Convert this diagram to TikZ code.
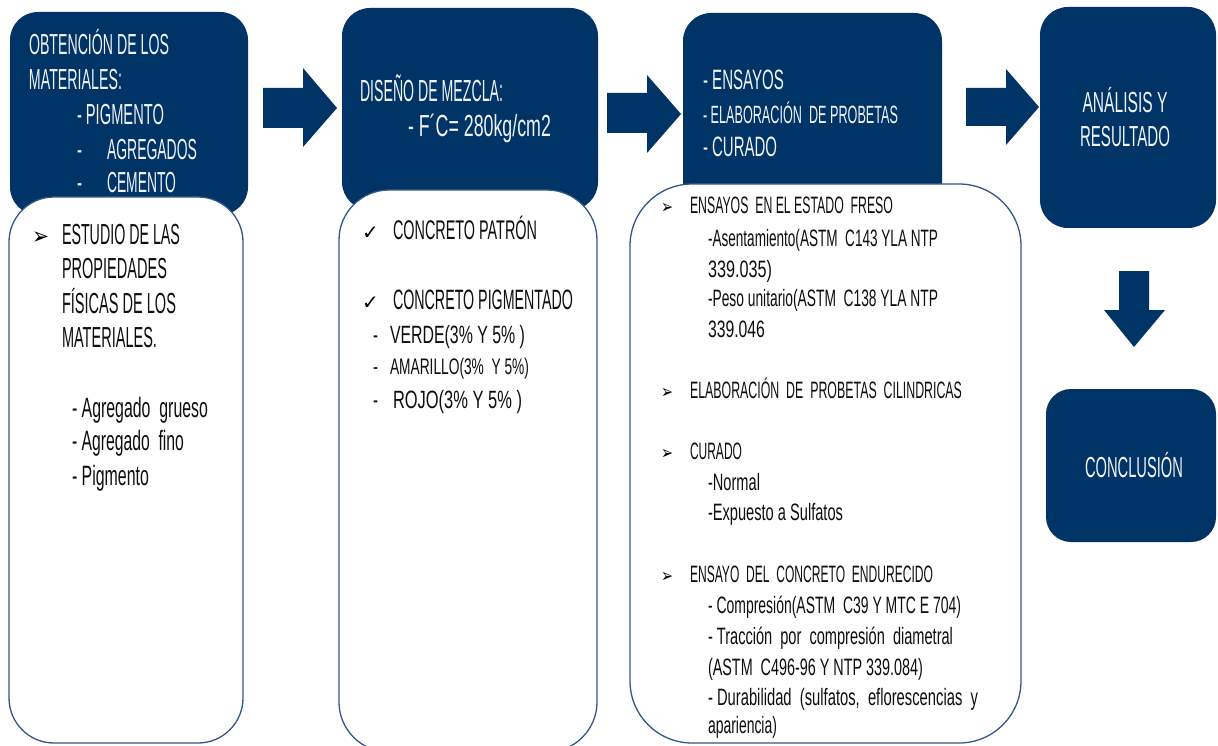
\documentclass[tikz,border=0pt]{standalone}
\usepackage{fontspec}
\usepackage{graphicx}
\setmainfont{Liberation Sans}
\newfontfamily\symfont{DejaVu Sans}
\definecolor{navy}{RGB}{0,51,102}
\definecolor{edgeblue}{RGB}{50,88,135}
\definecolor{inkblack}{RGB}{15,15,15}
\definecolor{paleink}{RGB}{240,242,245}
\newcommand{\fw}[2]{\resizebox{#1pt}{\height}{#2}}
\newcommand{\fsz}[1]{\fontsize{#1}{#1}\selectfont}
\tikzset{
  darkbox/.style={rectangle, fill=navy, draw=none, rounded corners=28pt, inner sep=0pt},
  whitebox/.style={rectangle, fill=white, draw=edgeblue, line width=1.3pt, inner sep=0pt},
  blockarrow/.style={fill=navy, draw=none},
  wtxt/.style={anchor=base west, inner sep=0pt, outer sep=0pt, text=paleink},
  btxt/.style={anchor=base west, inner sep=0pt, outer sep=0pt, text=inkblack},
  ctxt/.style={anchor=base, inner sep=0pt, outer sep=0pt, text=paleink},
  bul/.style={anchor=base west, inner sep=0pt, outer sep=0pt, text=black, font=\symfont},
}
\begin{document}
\begin{tikzpicture}[x=1pt,y=-1pt]
\useasboundingbox (0,0) rectangle (1218,746);
% dark boxes
\node[darkbox, minimum width=238pt, minimum height=203pt] (b1) at (129,113.5) {};
\node[darkbox, minimum width=256pt, minimum height=202pt] (b2) at (470,109) {};
\node[darkbox, minimum width=259pt, minimum height=207pt] (b3) at (812.5,116.5) {};
\node[darkbox, minimum width=176pt, minimum height=221pt] (b4) at (1128,117.5) {};
\node[darkbox, rounded corners=25pt, minimum width=170pt, minimum height=153pt] (b5) at (1131,465.5) {};
% white boxes
\node[whitebox, rounded corners=45pt, minimum width=234pt, minimum height=546pt] (w1) at (126,470) {};
\node[whitebox, rounded corners=50pt, minimum width=258pt, minimum height=562pt] (w2) at (468,471) {};
\node[whitebox, rounded corners=62pt, minimum width=391pt, minimum height=559pt] (w3) at (825.5,463.5) {};
% block arrows
\fill[blockarrow] (263,88) -- (303,88) -- (303,68) -- (337,108) -- (303,147) -- (303,128) -- (263,128) -- cycle;
\fill[blockarrow] (607,93) -- (647,93) -- (647,75) -- (681,114) -- (647,153) -- (647,133) -- (607,133) -- cycle;
\fill[blockarrow] (966,88) -- (1006,88) -- (1006,69) -- (1039,107) -- (1006,145) -- (1006,126) -- (966,126) -- cycle;
\fill[blockarrow] (1119,271) -- (1149,271) -- (1149,310) -- (1165,310) -- (1134,347) -- (1104,310) -- (1119,310) -- cycle;
% box 1 text
\node[wtxt, font=\fsz{29}] (t1a) at (29,55) {\fw{140}{OBTENCIÓN DE LOS}};
\node[wtxt, font=\fsz{29}] (t1b) at (29,90) {\fw{93}{MATERIALES:}};
\node[wtxt, font=\fsz{29}] (t1c) at (77,125) {\fw{87}{- PIGMENTO}};
\node[wtxt, font=\fsz{29}] (t1d) at (77,160) {\fw{5}{-}};
\node[wtxt, font=\fsz{29}] (t1e) at (107,160) {\fw{90}{AGREGADOS}};
\node[wtxt, font=\fsz{29}] (t1f) at (77,193) {\fw{5}{-}};
\node[wtxt, font=\fsz{29}] (t1g) at (107,193) {\fw{69}{CEMENTO}};
% white 1 text
\node[bul, font=\symfont\fsz{24}] (u1) at (32,244) {\fw{17}{➢}};
\node[btxt, font=\fsz{29}] (s1a) at (62,244) {\fw{118}{ESTUDIO DE LAS}};
\node[btxt, font=\fsz{29}] (s1b) at (62,278) {\fw{105}{PROPIEDADES}};
\node[btxt, font=\fsz{29}] (s1c) at (62,313) {\fw{114}{FÍSICAS DE LOS}};
\node[btxt, font=\fsz{29}] (s1d) at (62,347) {\fw{95}{MATERIALES.}};
\node[btxt, font=\fsz{28}] (s1e) at (72,417) {\fw{136}{- Agregado\ \ grueso}};
\node[btxt, font=\fsz{28}] (s1f) at (72,450) {\fw{112}{- Agregado\ \ fino}};
\node[btxt, font=\fsz{28}] (s1g) at (72,485) {\fw{77}{- Pigmento}};
% box 2 text
\node[wtxt, font=\fsz{30.5}] (t2a) at (360,102) {\fw{143}{DISEÑO DE MEZCLA:}};
\node[wtxt, font=\fsz{30.5}] (t2b) at (408,137) {\fw{143}{- F´C= 280kg/cm2}};
% white 2 text
\node[bul, font=\symfont\bfseries\fsz{20}] (u2a) at (362,240) {✓};
\node[btxt, font=\fsz{27}] (s2a) at (393,240) {\fw{144}{CONCRETO PATRÓN}};
\node[bul, font=\symfont\bfseries\fsz{20}] (u2b) at (362,309) {✓};
\node[btxt, font=\fsz{28}] (s2b) at (393,309) {\fw{180}{CONCRETO PIGMENTADO}};
\node[btxt, font=\fsz{25}] (s2c) at (373,343) {\fw{5}{-}};
\node[btxt, font=\fsz{25}] (s2d) at (390,343) {\fw{135}{VERDE(3\% Y 5\% )}};
\node[btxt, font=\fsz{22.5}] (s2e) at (373,374) {\fw{5}{-}};
\node[btxt, font=\fsz{22.5}] (s2f) at (390,374) {\fw{139}{AMARILLO(3\%\ \ Y 5\%)}};
\node[btxt, font=\fsz{25}] (s2g) at (373,408) {\fw{5}{-}};
\node[btxt, font=\fsz{25}] (s2h) at (393,408) {\fw{129}{ROJO(3\% Y 5\% )}};
% box 3 text
\node[wtxt, font=\fsz{28}] (t3a) at (703,90) {\fw{81}{- ENSAYOS}};
\node[wtxt, font=\fsz{25}] (t3b) at (703,124) {\fw{195}{- ELABORACIÓN\ \ DE PROBETAS}};
\node[wtxt, font=\fsz{28}] (t3c) at (703,157) {\fw{74}{- CURADO}};
% white 3 text
\node[bul, font=\symfont\fsz{19}] (u3a) at (661,214) {\fw{12}{➢}};
\node[btxt, font=\fsz{23.7}] (s3a) at (690,214) {\fw{203}{ENSAYOS\ \ EN EL ESTADO\ \ FRESO}};
\node[btxt, font=\fsz{23.7}] (s3b) at (708,247) {\fw{230}{-Asentamiento(ASTM\ \ C143 YLA NTP}};
\node[btxt, font=\fsz{23.7}] (s3c) at (708,277) {\fw{64}{339.035)}};
\node[btxt, font=\fsz{23.7}] (s3d) at (708,306) {\fw{230}{-Peso unitario(ASTM\ \ C138 YLA NTP}};
\node[btxt, font=\fsz{23.7}] (s3e) at (708,337) {\fw{57}{339.046}};
\node[bul, font=\symfont\fsz{19}] (u3b) at (661,398) {\fw{12}{➢}};
\node[btxt, font=\fsz{23.7}] (s3f) at (690,398) {\fw{272}{ELABORACIÓN\ \ DE\ \ PROBETAS\ \ CILINDRICAS}};
\node[bul, font=\symfont\fsz{19}] (u3c) at (661,459) {\fw{12}{➢}};
\node[btxt, font=\fsz{23.7}] (s3g) at (690,459) {\fw{52}{CURADO}};
\node[btxt, font=\fsz{23.7}] (s3h) at (708,490) {\fw{52}{-Normal}};
\node[btxt, font=\fsz{23.7}] (s3i) at (708,520) {\fw{135}{-Expuesto a Sulfatos}};
\node[bul, font=\symfont\fsz{19}] (u3d) at (661,582) {\fw{12}{➢}};
\node[btxt, font=\fsz{23.7}] (s3j) at (690,582) {\fw{243}{ENSAYO\ \ DEL\ \ CONCRETO\ \ ENDURECIDO}};
\node[btxt, font=\fsz{23.7}] (s3k) at (708,613) {\fw{253}{- Compresión(ASTM\ \ C39 Y MTC E 704)}};
\node[btxt, font=\fsz{23.7}] (s3l) at (708,644) {\fw{245}{- Tracción\ \ por\ \ compresión\ \ diametral}};
\node[btxt, font=\fsz{23.7}] (s3m) at (708,675) {\fw{215}{(ASTM\ \ C496-96 Y NTP 339.084)}};
\node[btxt, font=\fsz{23.7}] (s3n) at (708,705) {\fw{270}{- Durabilidad\ \ (sulfatos,\ \ eflorescencias\ \ y}};
\node[btxt, font=\fsz{23.7}] (s3o) at (708,733) {\fw{69}{apariencia)}};
% box 4 and 5 text
\node[ctxt, font=\fsz{29}] (t4a) at (1125,113) {\fw{85}{ANÁLISIS Y}};
\node[ctxt, font=\fsz{29}] (t4b) at (1125,147) {\fw{90}{RESULTADO}};
\node[ctxt, font=\fsz{29}] (t5a) at (1134,477) {\fw{98}{CONCLUSIÓN}};
\end{tikzpicture}
\end{document}
